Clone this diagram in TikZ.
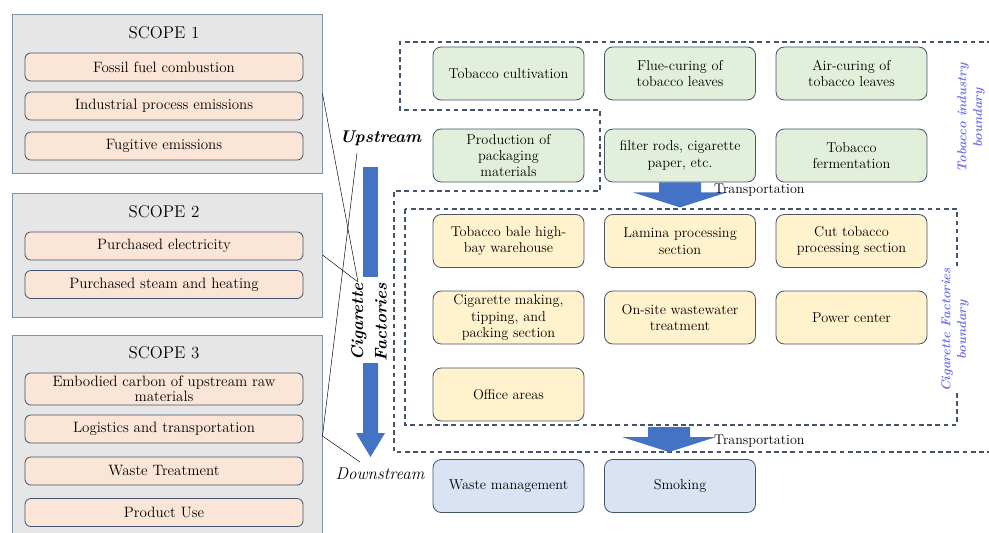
\documentclass[tikz,border=0pt]{standalone}
\usepackage{tikz}
\usetikzlibrary{positioning, calc}
\definecolor{scopegray}{RGB}{230,230,230}
\definecolor{scopeline}{RGB}{132,145,172}
\definecolor{peach}{RGB}{251,229,214}
\definecolor{boxline}{RGB}{70,84,108}
\definecolor{leafgreen}{RGB}{226,239,218}
\definecolor{cream}{RGB}{255,242,204}
\definecolor{paleblue}{RGB}{218,227,243}
\definecolor{arrowblue}{RGB}{68,114,196}
\definecolor{dashgray}{RGB}{68,84,106}
\definecolor{labelblue}{RGB}{112,112,240}
\tikzset{
  scopebox/.style={draw=scopeline, fill=scopegray, line width=0.8pt,
    minimum width=9.3cm, inner sep=0pt},
  itembox/.style={draw=boxline, fill=peach, rounded corners=5pt, line width=0.7pt,
    minimum width=8.34cm, minimum height=0.84cm, inner sep=0pt, align=center,
    font=\fontsize{12.8}{12.5}\selectfont},
  stagebox/.style={draw=boxline, rounded corners=7pt, line width=0.7pt,
    minimum width=4.53cm, minimum height=1.59cm, inner sep=0pt, align=center,
    font=\fontsize{12.2}{14}\selectfont},
  bounddash/.style={draw=dashgray, dash pattern=on 4pt off 3pt, line width=1pt},
  flowlabel/.style={font=\fontsize{14.5}{20}\selectfont\bfseries\itshape, align=center},
  sidelabel/.style={rotate=90, text=labelblue, align=center,
    font=\fontsize{11}{13.5}\selectfont\bfseries\itshape},
  transarrow/.pic={
    \fill[arrowblue] (-21,0) -- (21,0) -- (21,10) -- (47,10) -- (0,25)
      -- (-47,10) -- (-21,10) -- cycle;
  }
}
\begin{document}
\begin{tikzpicture}[x=0.03cm, y=-0.03cm]
  \useasboundingbox (0,0) rectangle (989,532);
  \clip (0,0) rectangle (989,532);
  % scopes
  \node[scopebox, minimum height=4.77cm] (scope1) at (167,93.5) {};
  \node[scopebox, minimum height=3.72cm] (scope2) at (167,255) {};
  \node[scopebox, minimum height=6.06cm] (scope3) at (167,436) {};
  \foreach \n in {1,2,3}
    \node[font=\fontsize{14.5}{16}\selectfont] (title\n) at (164,{\n==1 ? 33 : (\n==2 ? 212 : 353)}) {SCOPE \n};
  \foreach \y/\name/\txt in {67/fossil/Fossil fuel combustion,
      106/process/Industrial process emissions, 146/fugitive/Fugitive emissions,
      246/electricity/Purchased electricity, 284.5/steam/Purchased steam and heating,
      429/logistics/Logistics and transportation, 471/waste/Waste Treatment,
      512.5/use/Product Use}
    \node[itembox] (\name) at (164,\y) {\txt};
  \node[itembox, minimum height=0.96cm] (embodied) at (164,389)
    {Embodied carbon of upstream raw\\materials};
  % tobacco industry
  \node[stagebox, fill=leafgreen] (cultivation) at (508.5,73.5) {Tobacco cultivation};
  \node[stagebox, fill=leafgreen] (flue) at (680,73.5) {Flue-curing of\\tobacco leaves};
  \node[stagebox, fill=leafgreen] (air) at (851.5,73.5) {Air-curing of\\tobacco leaves};
  \node[stagebox, fill=leafgreen] (packaging) at (508.5,155.5) {Production of\\packaging\\materials};
  \node[stagebox, fill=leafgreen] (filter) at (680,155.5) {filter rods, cigarette\\paper, etc.};
  \node[stagebox, fill=leafgreen] (ferment) at (851.5,155.5) {Tobacco\\fermentation};
  % cigarette factories
  \node[stagebox, fill=cream] (warehouse) at (508.5,241) {Tobacco bale high-\\bay warehouse};
  \node[stagebox, fill=cream] (lamina) at (680,241) {Lamina processing\\section};
  \node[stagebox, fill=cream] (cut) at (851.5,241) {Cut tobacco\\processing section};
  \node[stagebox, fill=cream] (making) at (508.5,317.5) {Cigarette making,\\tipping, and\\packing section};
  \node[stagebox, fill=cream] (wastewater) at (680,317.5) {On-site wastewater\\treatment};
  \node[stagebox, fill=cream] (power) at (851.5,317.5) {Power center};
  \node[stagebox, fill=cream] (office) at (508.5,394.5) {Office areas};
  % downstream
  \node[stagebox, fill=paleblue] (wastemgmt) at (508.5,486) {Waste management};
  \node[stagebox, fill=paleblue] (smoking) at (680,486) {Smoking};
  % boundaries
  \draw[bounddash] (1000,42) -- (400,42) -- (400,110) -- (600,110) -- (600,191)
    -- (394,191) -- (394,452) -- (1000,452);
  \draw[bounddash] (405,209) rectangle (957,425);
  \node[sidelabel] (industrylabel) at (971,118) {Tobacco industry\\boundary};
  \node[sidelabel, fill=white, inner sep=1pt] (factorylabel) at (955,330)
    {Cigarette Factories\\boundary};
  % transportation
  \pic at (filter.south) {transarrow};
  \node[anchor=west, font=\fontsize{12}{14}\selectfont, inner sep=0pt] (trans1) at (714,190) {Transportation};
  \pic at (669,427) {transarrow};
  \node[anchor=west, font=\fontsize{12}{14}\selectfont, inner sep=0pt] (trans2) at (714,441) {Transportation};
  % upstream / downstream
  \node[flowlabel] (upstream) at (380.5,138) {Upstream};
  \node[flowlabel, font=\fontsize{14.5}{16}\selectfont\itshape] (downstream) at (380,474) {Downstream};
  \node[flowlabel, rotate=90] (cigfac) at (369,322) {Cigarette\\Factories};
  \fill[arrowblue] (363,167) rectangle (378,277);
  \fill[arrowblue] (363,363) -- (378,363) -- (378,433) -- (385,433) -- (370.5,457)
    -- (356,433) -- (363,433) -- cycle;
  \coordinate (cigtip) at (358,282);
  \coordinate (uptip) at (357,153);
  \coordinate (downtip) at (360,462);
  \draw[thin] (scope1.east) -- (cigtip);
  \draw[thin] (scope2.east) -- (cigtip);
  \draw[thin] (scope3.east) -- (uptip);
  \draw[thin] (scope3.east) -- (downtip);
\end{tikzpicture}
\end{document}
